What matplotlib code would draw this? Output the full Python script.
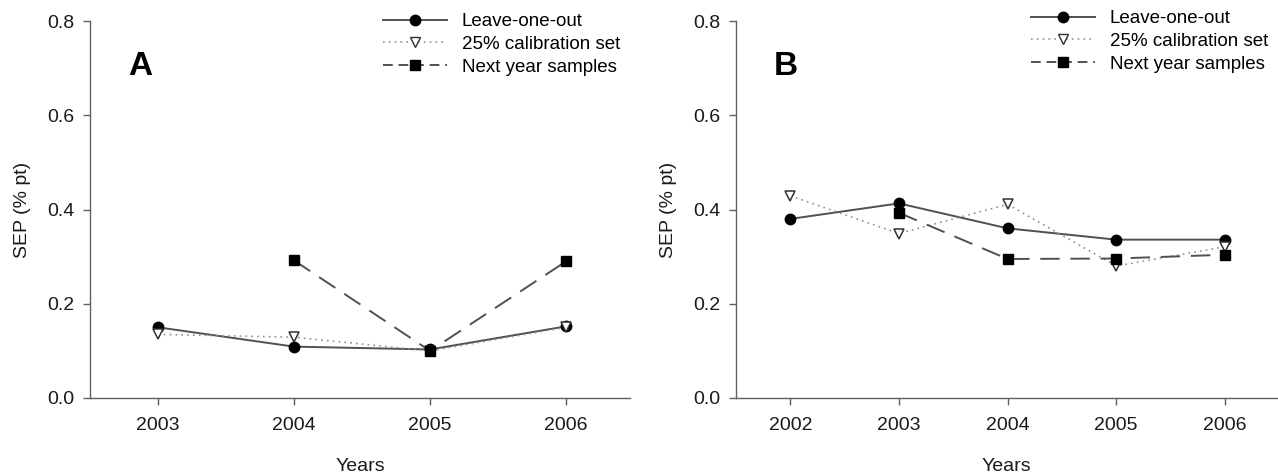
import numpy as np
import matplotlib.pyplot as plt
from matplotlib.lines import Line2D

plt.rcParams['font.family'] = ['Liberation Sans', 'DejaVu Sans']

# Panel A data
years_a = [2003, 2004, 2005, 2006]
loo_a = [0.150, 0.109, 0.103, 0.152]
cal_a = [0.135, 0.129, 0.100, 0.150]
next_years_a = [2004, 2005, 2006]
next_a = [0.292, 0.100, 0.290]

# Panel B data
years_b = [2002, 2003, 2004, 2005, 2006]
loo_b = [0.380, 0.413, 0.360, 0.336, 0.336]
cal_b = [0.429, 0.349, 0.411, 0.280, 0.321]
next_years_b = [2003, 2004, 2005, 2006]
next_b = [0.393, 0.295, 0.296, 0.304]

yticks = [0.0, 0.2, 0.4, 0.6, 0.8]
labels = ['Leave-one-out', '25% calibration set', 'Next year samples']

W, H = 1278, 476
fig = plt.figure(figsize=(W / 100, H / 100), dpi=100)

line_col = '#505050'
spine_col = '#606060'
fs = 14


def px(x0, y0, x1, y1):
    # convert pixel box to figure fraction
    return [x0 / W, 1 - y1 / H, (x1 - x0) / W, (y1 - y0) / H]


def draw_panel(ax, years, loo, cal, ny, nxt, xlim, letter, leg_xy):
    ax.plot(years, loo, color=line_col, lw=1.4, marker='o', ms=7.5,
            mfc='black', mec='black', zorder=3)
    ax.plot(years, cal, color='#909090', lw=1.2, ls=(0, (1, 2.5)),
            marker='v', ms=7.5, mfc='white', mec='#303030', mew=1.1, zorder=4)
    ax.plot(ny, nxt, color=line_col, lw=1.4, ls=(0, (10, 5.5)),
            marker='s', ms=6.5, mfc='black', mec='black', zorder=5)

    ax.set_xlim(*xlim)
    ax.set_ylim(0, 0.8)
    ax.set_yticks(yticks)
    ax.set_yticklabels(['%.1f' % v for v in yticks])
    ax.set_xticks(years)
    for s in ['top', 'right']:
        ax.spines[s].set_visible(False)
    for s in ['left', 'bottom']:
        ax.spines[s].set_color(spine_col)
        ax.spines[s].set_linewidth(1.0)
    ax.tick_params(direction='out', length=5, width=1, color=spine_col,
                   labelsize=fs, labelcolor='#1a1a1a')
    ax.tick_params(axis='y', pad=6)
    ax.tick_params(axis='x', pad=9)
    ax.set_xlabel('Years', fontsize=fs, color='#1a1a1a', labelpad=17)
    ax.set_ylabel('SEP (% pt)', fontsize=fs, color='#1a1a1a', labelpad=12)
    ax.text(0.07, 0.88, letter, transform=ax.transAxes, fontsize=24,
            fontweight='bold', ha='left', va='center')

    handles = [
        Line2D([], [], color=line_col, lw=1.4, marker='o', ms=7.5,
               mfc='black', mec='black'),
        Line2D([], [], color='#909090', lw=1.2, ls=(0, (1, 2.5)), marker='v',
               ms=7.5, mfc='white', mec='#303030'),
        Line2D([], [], color=line_col, lw=1.4, ls=(0, (5, 3)), marker='s',
               ms=6.5, mfc='black', mec='black'),
    ]
    fig.legend(handles, labels, loc='upper left',
               bbox_to_anchor=(leg_xy[0] / W, 1 - leg_xy[1] / H),
               frameon=False, fontsize=13.5, handlelength=3.4,
               handletextpad=0.8, labelspacing=0.3, borderpad=0,
               borderaxespad=0)


ax_a = fig.add_axes(px(90, 21, 630, 398))
draw_panel(ax_a, years_a, loo_a, cal_a, next_years_a, next_a,
           (2002.5, 2006.47), 'A', (383, 13))

ax_b = fig.add_axes(px(736, 21, 1277, 398))
draw_panel(ax_b, years_b, loo_b, cal_b, next_years_b, next_b,
           (2001.5, 2006.48), 'B', (1031, 10))

fig.savefig('out.png', dpi=100)
